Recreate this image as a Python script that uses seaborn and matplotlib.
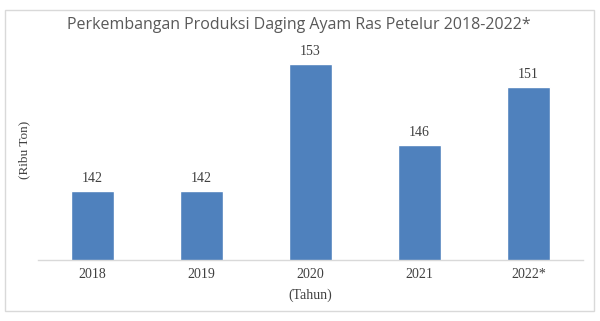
import matplotlib
matplotlib.use("Agg")
import matplotlib.pyplot as plt
import seaborn as sns
import pandas as pd
from matplotlib.patches import Rectangle

years = ["2018", "2019", "2020", "2021", "2022*"]
values = [142, 142, 153, 146, 151]
title = "Perkembangan Produksi Daging Ayam Ras Petelur 2018-2022*"

sns.set_theme(style="white")
plt.rcParams['font.family'] = ['DejaVu Sans']

df = pd.DataFrame({"Tahun": years, "Produksi": values})

fig = plt.figure(figsize=(6.0, 3.21), dpi=100)
fig.patch.set_facecolor("white")
ax = fig.add_axes([38/600, 1-260/321, 545/600, 220/321])

sns.barplot(data=df, x="Tahun", y="Produksi", color="#4F81BD", saturation=1,
            width=0.4, ax=ax)
ax.set_ylim(136, 155.1)
for i, v in enumerate(values):
    ax.text(i, v + 0.5, f"{v}", ha="center", va="bottom", fontsize=10,
            color="#404040", family="Liberation Serif")

for s in ["top", "right", "left"]:
    ax.spines[s].set_visible(False)
ax.spines["bottom"].set_color("#D9D9D9")
ax.spines["bottom"].set_linewidth(1)
ax.set_yticks([])
ax.tick_params(axis="x", length=0, pad=6, labelsize=10, labelcolor="#404040")
for lab in ax.get_xticklabels():
    lab.set_family("Liberation Serif")
ax.set_xlabel("(Tahun)", fontsize=10, color="#404040", family="Liberation Serif", labelpad=5)
ax.set_ylabel("")
fig.text(24/600, 1-150/321, "(Ribu Ton)", rotation=90, ha="center", va="center",
         fontsize=9.5, color="#404040", family="Liberation Serif")
fig.text(299/600, 1-25/321, title, ha="center", va="center", fontsize=11.5,
         color="#595959", family="Open Sans")

fig.patches.append(Rectangle((5/600, 1-311/321), 589/600, 301/321,
                             transform=fig.transFigure, fill=False,
                             edgecolor="#D9D9D9", linewidth=1))

fig.savefig("out.png", dpi=100)
